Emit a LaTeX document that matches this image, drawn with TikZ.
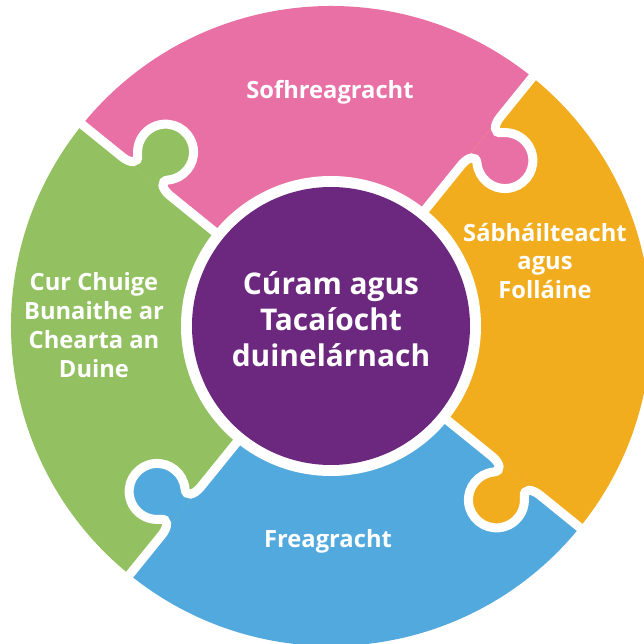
\documentclass[tikz,border=0pt]{standalone}
\usepackage{fontspec}
\setmainfont{Open Sans}
\usepackage{xcolor}
\definecolor{pinkpc}{HTML}{E970A5}
\definecolor{orangepc}{HTML}{F2AD1F}
\definecolor{bluepc}{HTML}{52A9DE}
\definecolor{greenpc}{HTML}{93C162}
\definecolor{purplepc}{HTML}{6C287E}

\begin{document}
\begin{tikzpicture}[
    piecelabel/.style={text=white, font=\fontsize{13.5}{16.4}\selectfont\bfseries, align=center, inner sep=0pt},
    centrelabel/.style={circle, fill=purplepc, minimum size=5.56cm, inner sep=0pt, text=white, font=\fontsize{17}{20.4}\selectfont\bfseries, align=center},
    gap/.style={draw=white, line width=0.18cm},
]

% === Frame (picture margins) ===
\fill[white] (-6.62, -6.36) rectangle (6.24, 6.52);
\useasboundingbox (-6.62, -6.36) rectangle (6.24, 6.52);

% === Ring sectors ===
\fill[pinkpc]   (51:2.9) -- (51:6.4) arc (51:141:6.4) -- (141:2.9) arc (141:51:2.9) -- cycle;
\fill[greenpc]  (141:2.9) -- (141:6.4) arc (141:231:6.4) -- (231:2.9) arc (231:141:2.9) -- cycle;
\fill[bluepc]   (231:2.9) -- (231:6.4) arc (231:321:6.4) -- (321:2.9) arc (321:231:2.9) -- cycle;
\fill[orangepc] (321:2.9) -- (321:6.4) arc (321:411:6.4) -- (411:2.9) arc (411:321:2.9) -- cycle;

% === Knobs (each one pushed clockwise into the next piece) ===
\fill[pinkpc, rotate=51] (4.14,0) .. controls (4.36,0) and (4.482,-0.108) .. (4.368,-0.22)
    arc (134.4:405.6:0.56) .. controls (5.038,-0.108) and (5.16,0) .. (5.38,0) -- cycle;
\fill[greenpc, rotate=141] (4.14,0) .. controls (4.36,0) and (4.482,-0.108) .. (4.368,-0.22)
    arc (134.4:405.6:0.56) .. controls (5.038,-0.108) and (5.16,0) .. (5.38,0) -- cycle;
\fill[bluepc, rotate=231] (4.14,0) .. controls (4.36,0) and (4.482,-0.108) .. (4.368,-0.22)
    arc (134.4:405.6:0.56) .. controls (5.038,-0.108) and (5.16,0) .. (5.38,0) -- cycle;
\fill[orangepc, rotate=321] (4.14,0) .. controls (4.36,0) and (4.482,-0.108) .. (4.368,-0.22)
    arc (134.4:405.6:0.56) .. controls (5.038,-0.108) and (5.16,0) .. (5.38,0) -- cycle;

% === White gaps between pieces ===
\draw[gap, rotate=51] (2.8,0) -- (4.14,0) .. controls (4.36,0) and (4.482,-0.108) .. (4.368,-0.22)
    arc (134.4:405.6:0.56) .. controls (5.038,-0.108) and (5.16,0) .. (5.38,0) -- (6.6,0);
\draw[gap, rotate=141] (2.8,0) -- (4.14,0) .. controls (4.36,0) and (4.482,-0.108) .. (4.368,-0.22)
    arc (134.4:405.6:0.56) .. controls (5.038,-0.108) and (5.16,0) .. (5.38,0) -- (6.6,0);
\draw[gap, rotate=231] (2.8,0) -- (4.14,0) .. controls (4.36,0) and (4.482,-0.108) .. (4.368,-0.22)
    arc (134.4:405.6:0.56) .. controls (5.038,-0.108) and (5.16,0) .. (5.38,0) -- (6.6,0);
\draw[gap, rotate=321] (2.8,0) -- (4.14,0) .. controls (4.36,0) and (4.482,-0.108) .. (4.368,-0.22)
    arc (134.4:405.6:0.56) .. controls (5.038,-0.108) and (5.16,0) .. (5.38,0) -- (6.6,0);

% === Centre disc ===
\fill[white] (0,0) circle (3.0);
\node[centrelabel] (curam) at (0,0) {};
\node[text=white, font=\fontsize{17}{20.4}\selectfont\bfseries, align=center] (curamtxt) at (0,0.14)
    {Cúram agus\\Tacaíocht\\duinelárnach};

% === Piece labels ===
\node[piecelabel] (sofh) at (-0.02, 4.68) {Sofhreagracht};
\node[piecelabel] (sabh) at (4.28, 1.30) {Sábháilteacht\\agus\\Folláine};
\node[piecelabel] (frea) at (-0.06, -4.30) {Freagracht};
\node[piecelabel] (cur) at (-4.74, 0.02) {Cur Chuige\\Bunaithe ar\\Chearta an\\Duine};

\end{tikzpicture}
\end{document}
